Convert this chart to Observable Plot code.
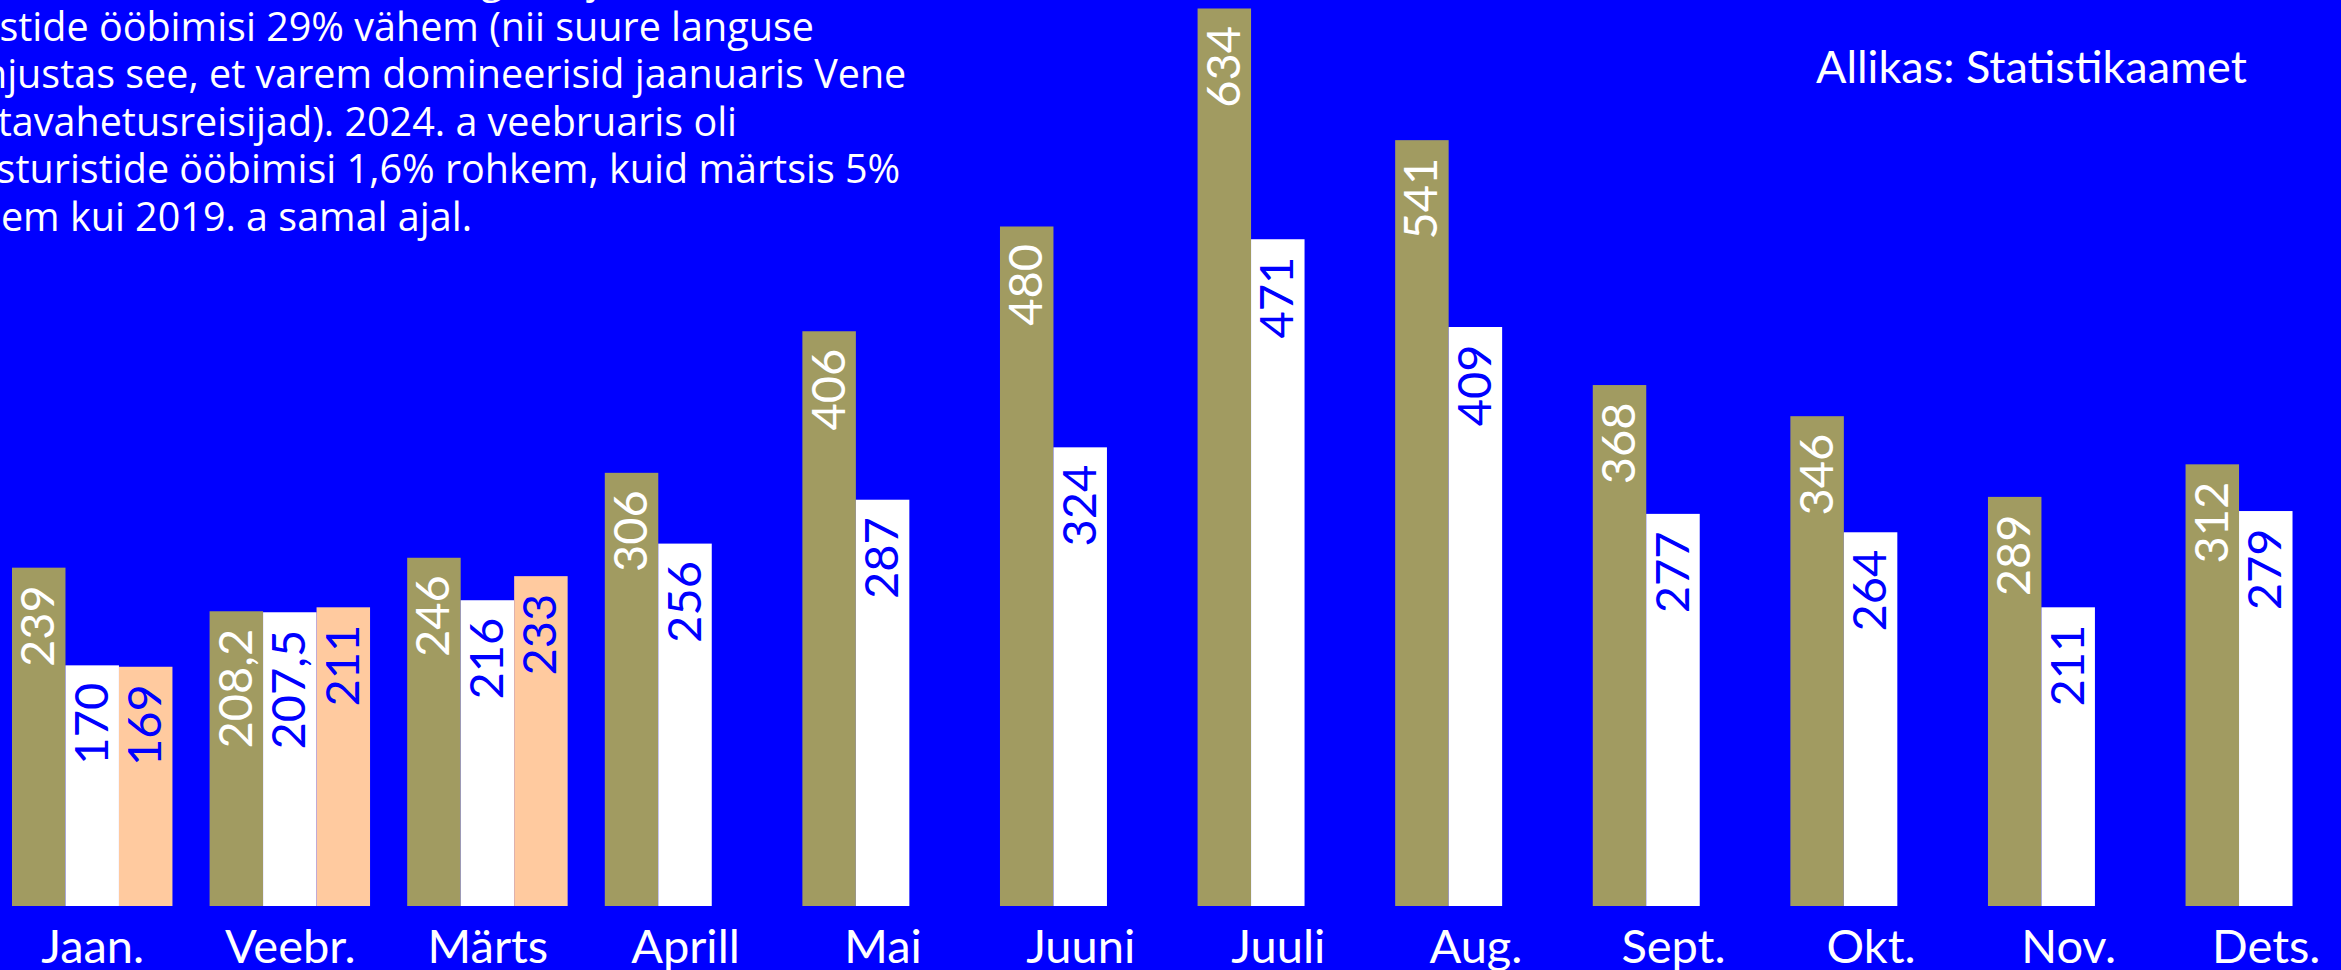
<!DOCTYPE html>
<html>
<head>
<meta charset="utf-8">
<script src="https://cdn.jsdelivr.net/npm/d3@7"></script>
<script src="https://cdn.jsdelivr.net/npm/@observablehq/plot@0.6"></script>
<style>
  html, body { margin: 0; padding: 0; background: #0000ff; overflow: hidden; }
  #wrap { position: relative; width: 2341px; height: 970px; overflow: hidden; background: #0000ff; }
  #chart { position: absolute; left: 0; top: 0; }
  #para { position: absolute; left: -65px; top: -45px; font-family: "Open Sans", sans-serif; font-size: 39.5px; line-height: 47.6px; color: #fff; white-space: nowrap; }
  #source { position: absolute; left: 1816px; top: 44px; font-family: Lato, sans-serif; font-size: 45px; line-height: 1; color: #fff; white-space: nowrap; }
</style>
</head>
<body>
<div id="wrap">
  <div id="chart"></div>
  <div id="para"></div>
  <div id="source"></div>
</div>
<script>
const months = ["Jaan.", "Veebr.", "Märts", "Aprill", "Mai", "Juuni", "Juuli", "Aug.", "Sept.", "Okt.", "Nov.", "Dets."];
const series = ["2019", "2023", "2024"];
const values2019 = [239, 208.2, 246, 306, 406, 480, 634, 541, 368, 346, 289, 312];
const values2023 = [170, 207.5, 216, 256, 287, 324, 471, 409, 277, 264, 211, 279];
const values2024 = [169, 211, 233];
const paragraphLines = [
  "Võrreldes koroonaeelse aastaga oli jaanuaris välis-",
  "turistide ööbimisi 29% vähem (nii suure languse",
  "põhjustas see, et varem domineerisid jaanuaris Vene",
  "aastavahetusreisijad). 2024. a veebruaris oli",
  "välisturistide ööbimisi 1,6% rohkem, kuid märtsis 5%",
  "vähem kui 2019. a samal ajal."
];
const sourceText = "Allikas: Statistikaamet";

const data = [];
[values2019, values2023, values2024].forEach((vals, si) => {
  vals.forEach((v, mi) => data.push({month: months[mi], series: series[si], value: v}));
});
const fmt = v => (v % 1 ? String(v).replace(".", ",") : String(v));

const chart = Plot.plot({
  width: 2341,
  height: 970,
  marginLeft: 12,
  marginRight: -5,
  marginTop: 0,
  marginBottom: 64,
  style: {background: "transparent", fontFamily: "Lato, sans-serif", overflow: "visible"},
  fx: {domain: months, paddingInner: 0.188, paddingOuter: 0, round: false, axis: null, label: null},
  x: {domain: series, padding: 0, round: false, axis: null},
  y: {domain: [0, 640], axis: null},
  color: {domain: series, range: ["#a19b61", "#ffffff", "#ffca9f"]},
  marks: [
    Plot.barY(data, {fx: "month", x: "series", y: "value", fill: "series"}),
    Plot.text(data, {
      fx: "month", x: "series", y: "value",
      text: d => fmt(d.value),
      rotate: -90, textAnchor: "end", lineAnchor: "middle",
      dy: 17, fontSize: 47,
      fill: d => (d.series === "2019" ? "#ffffff" : "#0000ff")
    }),
    Plot.axisFx({anchor: "bottom", tickSize: 0, tickPadding: 23.5, fontSize: 47, fill: "#ffffff", label: null})
  ]
});
document.getElementById("chart").appendChild(chart);
document.getElementById("para").innerHTML = paragraphLines.map(l => `<div>${l}</div>`).join("");
document.getElementById("source").textContent = sourceText;
</script>
</body>
</html>
